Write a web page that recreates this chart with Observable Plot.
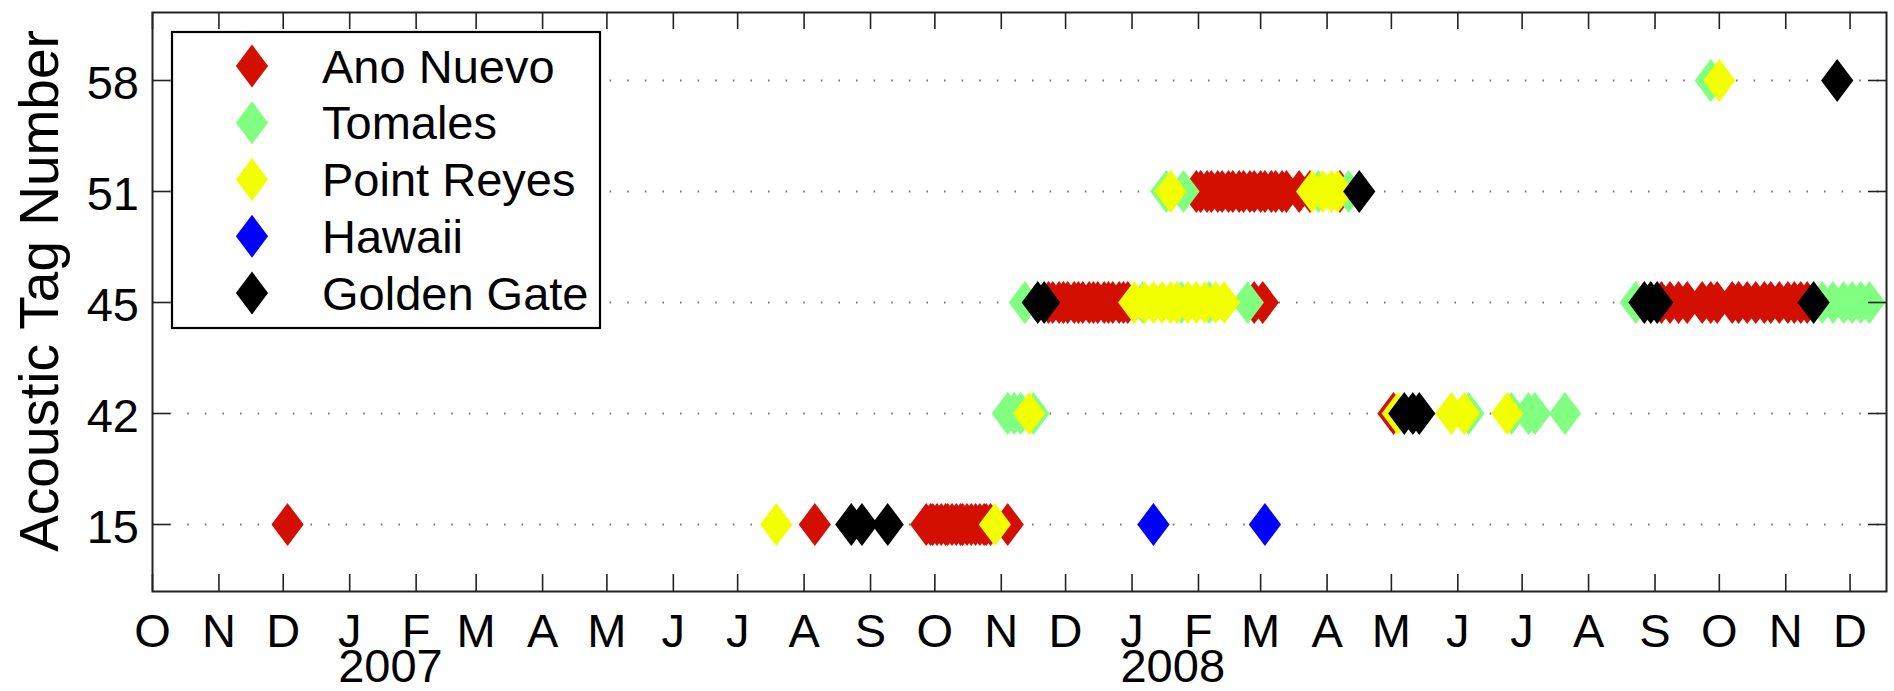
<!DOCTYPE html>
<html><head><meta charset="utf-8">
<script src="https://cdn.jsdelivr.net/npm/d3@7"></script>
<script src="https://cdn.jsdelivr.net/npm/@observablehq/plot@0.6"></script>
<style>
body{margin:0;background:#fff;}
#chart{position:relative;width:1894px;height:691px;font-family:"Liberation Sans",Arial,Helvetica,sans-serif;}
#legend{position:absolute;left:0;top:0;pointer-events:none;}
</style></head><body><div id="chart"></div>
<script>
// ---- data ----
const sites = ["Ano Nuevo", "Tomales", "Point Reyes", "Hawaii", "Golden Gate"];
const siteColors = ["#d20f00", "#80ff80", "#f2ff00", "#0000ff", "#000000"];
const tags = ["58", "51", "45", "42", "15"];
const monthLetters = ["J","F","M","A","M","J","J","A","S","O","N","D"];
const yearLabels = ["2007", "2008"];
const yearLabelDates = ["2007-01-20", "2008-01-20"];
const yTitle = "Acoustic Tag Number";

const anoNuevo = {
  "15": ["2006-12-03","2007-08-06","2007-09-27","2007-09-29","2007-09-30","2007-10-02","2007-10-04","2007-10-06","2007-10-07","2007-10-09","2007-10-11","2007-10-13","2007-10-14","2007-10-16","2007-10-18","2007-10-20","2007-10-22","2007-10-24","2007-10-25","2007-10-27","2007-11-04"],
  "42": ["2008-05-02"],
  "45": ["2007-11-23","2007-11-25","2007-11-28","2007-11-30","2007-12-02","2007-12-05","2007-12-07","2007-12-09","2007-12-12","2007-12-14","2007-12-16","2007-12-19","2007-12-21","2007-12-23","2007-12-26","2007-12-28","2007-12-30","2008-02-27","2008-03-02","2008-09-04","2008-09-08","2008-09-12","2008-09-16","2008-09-23","2008-09-27","2008-09-30","2008-10-07","2008-10-10","2008-10-14","2008-10-18","2008-10-22","2008-10-25","2008-10-29","2008-11-02","2008-11-05","2008-11-08","2008-11-11"],
  "51": ["2008-01-31","2008-02-02","2008-02-05","2008-02-07","2008-02-10","2008-02-12","2008-02-15","2008-02-17","2008-02-20","2008-02-22","2008-02-25","2008-02-27","2008-03-01","2008-03-03","2008-03-06","2008-03-08","2008-03-11","2008-03-13","2008-03-19","2008-03-24","2008-04-07"]
};
const tomales = {
  "42": ["2007-11-04","2007-11-07","2007-11-10","2007-11-16","2008-06-06","2008-06-26","2008-07-04","2008-07-07","2008-07-21"],
  "45": ["2007-11-12","2008-01-06","2008-01-24","2008-02-06","2008-02-24","2008-08-23","2008-11-18","2008-11-23","2008-11-28","2008-12-02","2008-12-06","2008-12-10"],
  "51": ["2008-01-17","2008-01-25","2008-03-28","2008-04-11"],
  "58": ["2008-09-27"]
};
const pointReyes = {
  "15": ["2007-07-19","2007-10-29"],
  "42": ["2007-11-14","2008-05-04","2008-05-29","2008-06-04","2008-06-24"],
  "45": ["2008-01-02","2008-01-07","2008-01-11","2008-01-15","2008-01-19","2008-01-22","2008-01-27","2008-01-31","2008-02-04","2008-02-09","2008-02-13"],
  "51": ["2008-01-19","2008-03-25","2008-03-30","2008-04-03","2008-04-06"],
  "58": ["2008-10-01"]
};
const hawaii = {
  "15": ["2008-01-11","2008-03-03"]
};
const goldenGate = {
  "15": ["2007-08-23","2007-08-28","2007-09-09"],
  "42": ["2008-05-07","2008-05-11","2008-05-14"],
  "45": ["2007-11-18","2007-11-21","2008-08-27","2008-08-30","2008-09-02","2008-11-14"],
  "51": ["2008-04-16"],
  "58": ["2008-11-25"]
};
const siteData = [anoNuevo, tomales, pointReyes, hawaii, goldenGate];
const xStart = "2006-10-01", xEnd = "2008-12-18";

// ---- build table ----
const rows = [];
siteData.forEach((obj, si) => {
  for (const tag of Object.keys(obj)) {
    for (const d of obj[tag]) rows.push({site: sites[si], tag, date: new Date(d)});
  }
});

const W = 1894, H = 691, mL = 152, mR = 8, mT = 12, mB = 100;
const plotW = W - mL - mR, plotH = H - mT - mB;
const months = d3.utcMonth.range(new Date(xStart), new Date("2008-12-02"));
const diamond = {
  draw(ctx, size) {
    const r = Math.sqrt(size / Math.PI), w = r * 0.75;
    ctx.moveTo(0, -r); ctx.lineTo(w, 0); ctx.lineTo(0, r); ctx.lineTo(-w, 0); ctx.closePath();
  }
};
const font = '"Liberation Sans", Arial, Helvetica, sans-serif';
const axisColor = "#222";
const fs = 47;

const chart = Plot.plot({
  width: W, height: H,
  marginLeft: mL, marginRight: mR, marginTop: mT, marginBottom: mB,
  style: {fontFamily: font, background: "white", color: "black", overflow: "visible"},
  x: {type: "utc", domain: [new Date(xStart), new Date(xEnd)]},
  y: {type: "point", domain: tags, padding: 0.6},
  color: {domain: sites, range: siteColors},
  marks: [
    Plot.gridY(tags, {stroke: "#777", strokeOpacity: 1, strokeWidth: 1.8, strokeDasharray: "1.6,16"}),
    Plot.dot(rows, {x: "date", y: "tag", fill: "site", r: 21.5, symbol: diamond}),
    Plot.tickX(months, {x: d => d, insetTop: plotH - 17, stroke: axisColor, strokeWidth: 1.6}),
    Plot.tickX(months, {x: d => d, insetBottom: plotH - 17, stroke: axisColor, strokeWidth: 1.6}),
    Plot.tickY(tags, {y: d => d, insetRight: plotW - 18, stroke: axisColor, strokeWidth: 1.6}),
    Plot.tickY(tags, {y: d => d, insetLeft: plotW - 18, stroke: axisColor, strokeWidth: 1.6}),
    Plot.frame({stroke: axisColor, strokeWidth: 2}),
    Plot.axisX({ticks: months, tickSize: 0, tickPadding: 22.5, fontSize: fs, label: null,
      tickFormat: d => monthLetters[d.getUTCMonth()]}),
    Plot.axisY({tickSize: 0, tickPadding: 13.5, fontSize: fs, dy: 3.7, label: null}),
    Plot.text(yearLabels, {x: (d, i) => new Date(yearLabelDates[i]), text: d => d,
      frameAnchor: "bottom", lineAnchor: "bottom", dy: 90, fontSize: fs})
  ]
});
const container = document.getElementById("chart");
container.appendChild(chart);

// ---- overlay: y title and legend ----
const lg = d3.select(container).append("svg").attr("id", "legend")
  .attr("width", W).attr("height", H);
lg.append("text").attr("transform", "translate(58,291) rotate(-90)")
  .attr("text-anchor", "middle").attr("font-size", 55).attr("font-family", font)
  .attr("fill", "black").text(yTitle);
lg.append("rect").attr("x", 172).attr("y", 32).attr("width", 428).attr("height", 296)
  .attr("fill", "white").attr("stroke", "black").attr("stroke-width", 2.2);
const diamondPath = "M0,-21.5L16.1,0L0,21.5L-16.1,0Z";
sites.forEach((s, i) => {
  const cy = 66 + i * 56.75;
  lg.append("path").attr("d", diamondPath).attr("transform", `translate(252,${cy})`)
    .attr("fill", siteColors[i]);
  lg.append("text").attr("x", 322).attr("y", cy + 16.5).attr("font-size", 47)
    .attr("font-family", font).attr("fill", "black").text(s);
});
</script></body></html>
